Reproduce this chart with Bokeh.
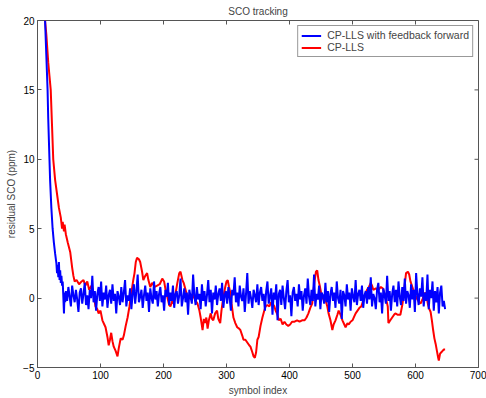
from bokeh.plotting import figure
from bokeh.models import Range1d, FixedTicker, Legend, LegendItem
from bokeh.embed import file_html
from bokeh.resources import INLINE

x_ticks = [0, 100, 200, 300, 400, 500, 600, 700]
y_ticks = [-5, 0, 5, 10, 15, 20]

# CP-LLS (red)
red_x = [12, 14, 17, 19, 21, 23, 25, 28, 31, 34, 37, 39, 40, 42, 43, 45, 48, 52, 55, 57, 59, 62, 66, 70, 73, 76, 79, 82, 86, 89,
         92, 95, 97, 100, 103, 106, 108, 111, 113, 115, 117, 119, 121, 124, 127, 129, 132, 135, 137, 140, 143, 146, 148, 150, 152, 154, 156, 158, 161, 163,
         166, 168, 171, 174, 176, 179, 182, 186, 190, 194, 198, 201, 204, 206, 209, 211, 214, 216, 219, 222, 225, 227, 230, 232, 235, 238, 241, 243, 246, 248,
         251, 254, 257, 259, 261, 262, 264, 266, 268, 270, 272, 275, 277, 279, 282, 285, 287, 290, 292, 295, 298, 300, 302, 304, 306, 308, 311, 314, 317, 320,
         322, 325, 327, 330, 333, 336, 338, 341, 343, 345, 347, 349, 351, 354, 357, 360, 362, 365, 368, 371, 373, 376, 378, 381, 383, 386, 389, 392, 395, 398,
         401, 404, 408, 412, 416, 420, 424, 427, 430, 433, 436, 438, 440, 442, 444, 446, 448, 450, 452, 455, 457, 460, 462, 465, 468, 470, 473, 476, 478, 481,
         484, 487, 489, 492, 494, 497, 500, 503, 505, 508, 511, 514, 517, 520, 523, 526, 529, 531, 533, 537, 541, 545, 548, 551, 554, 556, 557, 560, 563, 566,
         568, 572, 576, 579, 581, 583, 585, 588, 590, 592, 595, 598, 601, 603, 606, 608, 611, 614, 616, 618, 620, 622, 624, 626, 628, 630, 632, 634, 636, 637,
         639, 641, 643, 645, 647]
red_y = [20, 19, 17, 16, 15, 12.5, 10, 8.5, 7.5, 6.5, 5.8, 5.0, 5.5, 4.8, 5.3, 4.6, 4.0, 3.3, 2.2, 1.6, 1.2, 1.3, 1.0, 1.2, 1.3, 0.9, 1.2, 0.6, 0.9, 0.3,
         -0.6, -0.8, -1.1, -0.9, -1.6, -1.9, -2.1, -2.8, -3.4, -3.0, -2.5, -3.1, -3.5, -3.8, -4.2, -3.6, -2.9, -3.0, -2.7, -2.0, -1.4, -0.6, 0.1, 0.7, 1.3, 1.8, 2.6, 2.9, 2.8, 2.6,
         1.9, 1.3, 1.6, 1.8, 1.3, 0.8, 1.1, 0.8, 0.9, 1.0, 1.4, 1.2, 0.4, 0.1, -0.5, -0.6, -0.2, -0.4, 0.3, 1.1, 1.8, 1.9, 1.3, 1.1, 0.6, 0.1, 0.2, -0.1, 0.3, 0.1,
         -0.2, -0.4, -0.9, -1.4, -2.0, -2.3, -1.5, -1.8, -1.4, -2.2, -1.6, -1.1, -1.5, -1.6, -1.1, -0.9, -1.5, -1.8, -0.9, 0.1, 0.8, 1.2, 1.3, 0.8, 0.4, -0.4, -1.4, -1.8, -2.1, -2.2,
         -2.3, -2.7, -3.0, -3.0, -3.2, -3.4, -3.5, -3.9, -4.2, -4.3, -3.9, -3.0, -2.8, -2.0, -1.4, -0.9, -0.6, -0.5, -0.6, -0.3, -0.4, -0.6, -0.9, -1.2, -1.6, -1.5, -1.9, -1.7, -1.9, -2.0,
         -1.9, -1.7, -1.7, -1.6, -1.7, -1.6, -1.6, -1.4, -1.1, -0.7, -0.4, 0.5, 1.3, 1.9, 2.0, 1.3, 0.9, 0.4, 0.1, -0.2, -0.1, -0.6, -1.1, -1.6, -2.3, -1.9, -1.6, -1.2, -0.9, -1.2,
         -1.6, -1.9, -2.1, -1.8, -1.9, -1.7, -1.6, -1.3, -1.1, -0.9, -0.7, -0.6, -0.2, 0.2, 0.6, 0.8, 1.1, 0.9, 0.6, 0.7, 0.6, 0.8, 0.7, 0.3, -0.2, -0.6, -1.8, -1.6, -1.4, -1.2,
         -1.1, -1.2, -1.2, -0.5, 0.1, 1.0, 1.8, 1.9, 1.7, 1.2, 0.8, 0.4, 0.1, -0.1, -0.3, -0.4, -0.1, 0.3, 0.4, 0.0, -0.5, -0.8, -1.0, -1.6, -2.3, -2.9, -3.3, -3.8, -4.3, -4.5,
         -4.0, -3.9, -3.8, -3.7, -3.7]

# CP-LLS with feedback forward (blue): initial convergence, then noise every 2 symbols from 45
blue_head_x = [12, 14, 16, 17, 19, 20, 22, 24, 26, 28, 30, 31, 32, 33, 34, 35, 36, 37, 38, 39, 40, 41, 42, 43, 44]
blue_head_y = [20, 17.5, 15, 13, 10, 8.5, 6.5, 5, 4, 3.2, 2.5, 1.8, 2.4, 1.5, 2.6, 1.3, 2.0, 1.1, 1.6, 0.9, 1.2, 0.1, -1.1, 0.4, -0.3]
blue_tail_start = 45
blue_tail_step = 2
blue_tail_y = [
    0.5, -0.2, 0.8, 0.1, -0.6, 0.9, 0.2, -0.3, 0.6, -0.1,
    -1.0, 0.4, 0.7, -0.4, 0.3, 1.1, -0.5, 0.2, -0.8, 0.6,
    0.0, 1.6, -0.3, 0.5, -0.9, 0.3, 0.8, -0.2, 1.2, -0.6,
    0.4, -0.1, 0.9, -0.7, 0.2, 0.6, -0.4, 1.0, -0.2, 0.3,
    -1.1, 0.5, 0.1, -0.5, 0.8, -0.3, 0.4, 1.3, -0.6, 0.2,
    -0.2, 0.7, -0.8, 0.3, 1.0, -0.4, 0.5, 1.7, -0.3, 0.1,
    0.6, -0.7, 0.2, 0.9, -0.2, 0.4, -1.0, 0.7, 0.0, -0.4,
    1.2, -0.1, 0.5, -0.6, 0.3, 0.8, -0.3, 0.2, -0.9, 0.6,
    0.1, 1.1, -0.5, 0.4, -0.2, 0.9, -0.7, 0.3, 0.5, -0.4,
    0.2, 1.4, -0.6, 0.0, 0.7, -0.3, 0.4, -1.2, 0.6, 0.1,
    -0.4, 1.7, 0.2, -0.5, 0.8, -0.1, 0.3, -0.8, 1.0, -0.2,
    0.5, -0.6, 0.2, 1.3, -0.3, 0.6, -1.1, 0.4, -0.1, 0.9,
    -0.5, 0.3, 0.7, -0.2, 1.1, -0.7, 0.2, 0.5, -0.4, 0.8,
    0.0, -0.9, 0.6, 0.2, 1.5, -0.3, 0.4, -0.6, 0.9, 0.1,
    -0.2, 0.7, -1.0, 0.3, 1.8, -0.4, 0.5, 0.0, -0.7, 0.6,
    0.2, -0.3, 1.0, -0.5, 0.4, 0.8, -0.2, 0.3, -0.9, 0.5,
    1.2, -0.4, 0.1, 0.7, -1.2, 0.4, -0.1, 1.0, -1.6, 0.3,
    0.6, -0.5, 0.9, 0.0, -0.8, 0.5, 1.3, -0.3, 0.2, -1.3,
    0.4, 0.8, -0.2, 0.3, -0.6, 1.0, -0.1, 0.5, -0.9, 0.2,
    0.7, -0.4, 1.4, 0.1, -0.5, 0.6, -0.2, 1.7, -0.6, 0.3,
    -0.1, 0.9, -0.8, 0.4, 0.2, -0.4, 1.1, -0.3, 0.5, -1.0,
    0.3, 0.8, -0.2, 0.4, -0.7, 1.2, 0.0, -0.4, 0.6, -1.5,
    0.5, 0.2, -0.6, 1.0, -0.1, 0.4, -0.9, 0.7, 0.1, -0.3,
    1.3, -0.5, 0.3, 0.6, -0.2, 0.9, -0.7, 0.2, 0.5, -0.4,
    0.8, -0.1, 1.5, -0.6, 0.3, 0.0, -0.8, 0.6, 1.1, -0.3,
    0.4, -1.1, 0.7, 0.2, -0.4, 1.6, -0.2, 0.5, -0.9, 0.3,
    0.9, -0.3, 0.6, -0.6, 1.2, 0.1, -0.5, 0.8, -0.2, 1.4,
    -0.4, 0.5, 0.2, -0.7, 1.0, -0.1, 0.6, -1.0, 1.8, 0.3,
    -0.5, 0.7, 0.1, 1.5, -0.6, 0.4, -0.2, 1.7, -0.8, 0.6,
    0.0, 1.2, -0.9, 0.5, -0.3, 0.8, -1.1, 0.4, 0.9, -0.6,
    -0.2, -0.8,
]
blue_x = blue_head_x + [blue_tail_start + blue_tail_step * i for i in range(len(blue_tail_y))]
blue_y = blue_head_y + blue_tail_y

FONT = "Liberation Sans"
X0, X1, Y0, Y1 = 0, 700, -5, 20

p = figure(width=486, height=398, output_backend="svg", toolbar_location=None,
           x_range=Range1d(X0, X1), y_range=Range1d(Y0, Y1),
           min_border_left=37, min_border_right=8, min_border_top=20, min_border_bottom=31)
p.background_fill_color = "white"
p.border_fill_color = "white"
p.outline_line_color = "#555555"
p.outline_line_width = 1
p.xgrid.visible = False
p.ygrid.visible = False

p.title.text = "SCO tracking"
p.title.align = "center"
p.title.text_font = FONT
p.title.text_font_size = "10px"
p.title.text_font_style = "normal"
p.title.standoff = 7

for ax in (p.xaxis[0], p.yaxis[0]):
    ax.major_tick_in = 4
    ax.major_tick_out = 0
    ax.minor_tick_in = 0
    ax.minor_tick_out = 0
    ax.axis_line_color = "#555555"
    ax.major_tick_line_color = "#555555"
    ax.major_label_text_font = FONT
    ax.major_label_text_font_size = "10px"
    ax.major_label_text_color = "black"
    ax.axis_label_text_font = FONT
    ax.axis_label_text_font_size = "10px"
    ax.axis_label_text_font_style = "normal"
    ax.major_label_standoff = 3
    ax.axis_label_standoff = 3

p.xaxis[0].ticker = FixedTicker(ticks=x_ticks)
p.yaxis[0].ticker = FixedTicker(ticks=y_ticks)
p.xaxis[0].axis_label = "symbol index"
p.yaxis[0].axis_label = "residual SCO (ppm)"

# MATLAB-style inward ticks on the top and right edges of the box
tick_dx = (X1 - X0) * 4 / 441
tick_dy = (Y1 - Y0) * 4 / 347
p.segment(x0=x_ticks, y0=[Y1] * len(x_ticks), x1=x_ticks, y1=[Y1 - tick_dy] * len(x_ticks),
          line_color="#555555", line_width=1)
p.segment(x0=[X1] * len(y_ticks), y0=y_ticks, x1=[X1 - tick_dx] * len(y_ticks), y1=y_ticks,
          line_color="#555555", line_width=1)

r_red = p.line(red_x, red_y, line_color="#ff0000", line_width=2)
r_blue = p.line(blue_x, blue_y, line_color="#0000ff", line_width=2)

legend = Legend(items=[LegendItem(label="CP-LLS with feedback forward", renderers=[r_blue]),
                       LegendItem(label="CP-LLS", renderers=[r_red])],
                location="top_right")
legend.margin = 5
legend.padding = 3
legend.spacing = 0
legend.glyph_width = 20
legend.glyph_height = 11
legend.label_height = 11
legend.label_standoff = 6
legend.label_text_font = FONT
legend.label_text_font_size = "10.5px"
legend.border_line_color = "#333333"
legend.border_line_width = 1
legend.background_fill_alpha = 1
p.add_layout(legend, "center")

open("out.html", "w").write(file_html(p, INLINE))
